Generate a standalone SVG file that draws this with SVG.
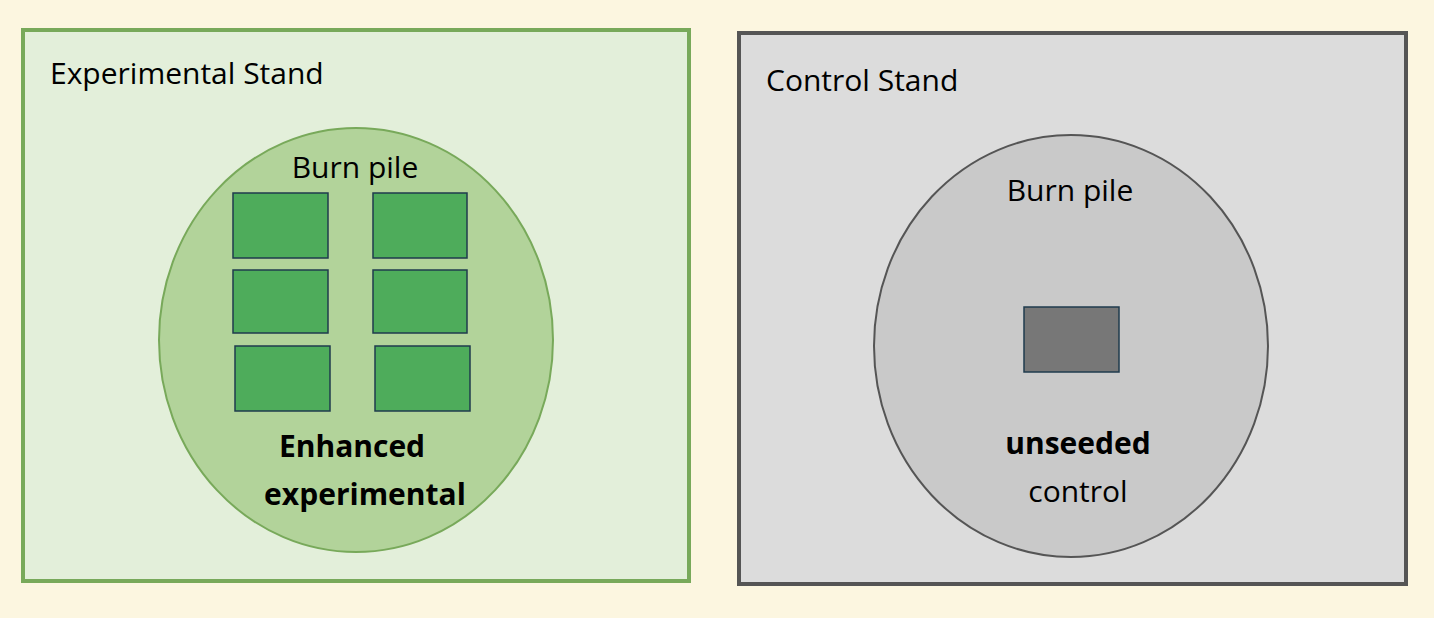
<svg xmlns="http://www.w3.org/2000/svg" width="1434" height="618" viewBox="0 0 1434 618">
<style>
text{font-family:"Open Sans","Liberation Sans",sans-serif;fill:#000}
.g{fill:#4eac5b;stroke:#1f3b4d;stroke-width:1.5}
</style>
<rect width="1434" height="618" fill="#fcf6e0"/>
<g id="exp">
<rect x="23" y="30" width="666" height="551" fill="#e3efda" stroke="#78a95a" stroke-width="4"/>
<text x="50" y="84" font-size="30">Experimental Stand</text>
</g>
<g id="exp-pile">
<ellipse cx="356" cy="340" rx="197" ry="212" fill="#b2d39a" stroke="#78a95a" stroke-width="2"/>
<text x="355" y="178" font-size="30" text-anchor="middle">Burn pile</text>
<rect class="g" x="233" y="193" width="95" height="65"/>
<rect class="g" x="373" y="193" width="94" height="65"/>
<rect class="g" x="233" y="270" width="95" height="63"/>
<rect class="g" x="373" y="270" width="94" height="63"/>
<rect class="g" x="235" y="346" width="95" height="65"/>
<rect class="g" x="375" y="346" width="95" height="65"/>
<text x="352" y="457" font-size="30" font-weight="bold" text-anchor="middle">Enhanced</text>
<text x="365" y="505" font-size="30" font-weight="bold" text-anchor="middle">experimental</text>
</g>
<g id="ctrl">
<rect x="739" y="33" width="667" height="551" fill="#dcdcdc" stroke="#555" stroke-width="4"/>
<text x="766" y="91" font-size="30">Control Stand</text>
</g>
<g id="ctrl-pile">
<ellipse cx="1071" cy="346" rx="197" ry="211" fill="#c9c9c9" stroke="#555" stroke-width="2"/>
<text x="1070" y="201" font-size="30" text-anchor="middle">Burn pile</text>
<rect x="1024" y="307" width="95" height="65" fill="#777" stroke="#1f3b4d" stroke-width="1.5"/>
<text x="1078" y="454" font-size="30" font-weight="bold" text-anchor="middle">unseeded</text>
<text x="1078" y="502" font-size="30" text-anchor="middle">control</text>
</g>
<g id="connectors"/>
</svg>
